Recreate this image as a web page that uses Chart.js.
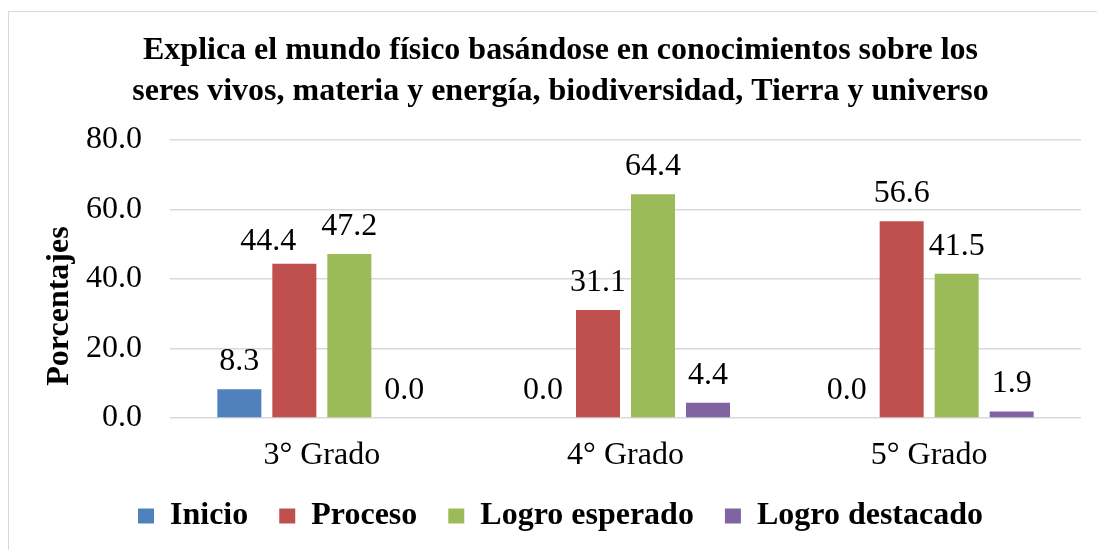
<!DOCTYPE html>
<html>
<head>
<meta charset="utf-8">
<script src="https://cdn.jsdelivr.net/npm/chart.js@4/dist/chart.umd.min.js"></script>
<style>
  html, body { margin: 0; padding: 0; overflow: hidden; background: #fff; }
  #wrap { position: absolute; left: 0; top: 0; width: 1097px; height: 550px; }
  #frame { position: absolute; left: 8px; top: 11px; width: 1200px; height: 600px; border: 1px solid #d9d9d9; box-sizing: border-box; pointer-events: none; }
</style>
</head>
<body>
<div id="wrap"><canvas id="c" width="1097" height="550"></canvas></div>
<div id="frame"></div>
<script>
const categories = ["3° Grado", "4° Grado", "5° Grado"];
const seriesNames = ["Inicio", "Proceso", "Logro esperado", "Logro destacado"];
const inicio = [8.3, 0.0, 0.0];
const proceso = [44.4, 31.1, 56.6];
const logroEsperado = [47.2, 64.4, 41.5];
const logroDestacado = [0.0, 4.4, 1.9];
const yTicks = [0, 20, 40, 60, 80];
const titleLines = ["Explica el mundo físico basándose en conocimientos sobre los", "seres vivos, materia y energía, biodiversidad, Tierra y universo"];
const yTitle = "Porcentajes";
const colors = ["#4F81BD", "#C0504D", "#9BBB59", "#8064A2"];

const FONT = "'Liberation Serif', 'Times New Roman', serif";

const valueLabels = {
  id: 'valueLabels',
  afterDatasetsDraw(chart) {
    const ctx = chart.ctx;
    ctx.save();
    ctx.font = "32px " + FONT;
    ctx.fillStyle = "#000";
    ctx.textAlign = "center";
    ctx.textBaseline = "alphabetic";
    const n = chart.data.datasets.length;
    chart.data.labels.forEach((_, j) => {
      // collect labels of this category
      const items = [];
      for (let i = 0; i < n; i++) {
        const ds = chart.data.datasets[i];
        const bar = chart.getDatasetMeta(i).data[j];
        const text = ds.data[j].toFixed(1);
        const w = ctx.measureText(text).width;
        items.push({ text, x: bar.x, y: bar.y - 19, w });
      }
      // avoid overlaps: shift a label left/down when it collides with the next one
      for (let i = n - 2; i >= 0; i--) {
        const a = items[i], b = items[i + 1];
        const overlapX = (a.x + a.w / 2) > (b.x - b.w / 2) - 2;
        const overlapY = Math.abs(a.y - b.y) < 30;
        if (overlapX && overlapY) {
          a.x = (b.x - b.w / 2) - 25 - a.w / 2;
          a.y += 5;
        }
      }
      items.forEach(it => ctx.fillText(it.text, it.x, it.y));
    });
    ctx.restore();
  }
};

const axisTitle = {
  id: 'axisTitle',
  afterDraw(chart) {
    const ctx = chart.ctx;
    const area = chart.chartArea;
    ctx.save();
    ctx.font = "bold 32px " + FONT;
    ctx.fillStyle = "#000";
    ctx.textAlign = "center";
    ctx.textBaseline = "middle";
    ctx.translate(60, (area.top + area.bottom) / 2 + 27);
    ctx.rotate(-Math.PI / 2);
    ctx.fillText(yTitle, 0, 0);
    ctx.restore();
  }
};

new Chart(document.getElementById('c'), {
  type: 'bar',
  data: {
    labels: categories,
    datasets: [
      { label: seriesNames[0], data: inicio, backgroundColor: colors[0] },
      { label: seriesNames[1], data: proceso, backgroundColor: colors[1] },
      { label: seriesNames[2], data: logroEsperado, backgroundColor: colors[2] },
      { label: seriesNames[3], data: logroDestacado, backgroundColor: colors[3] }
    ]
  },
  options: {
    responsive: false,
    animation: false,
    devicePixelRatio: 1,
    layout: { padding: { top: 0, left: 40, right: 16, bottom: 8 } },
    datasets: { bar: { categoryPercentage: 0.7245, barPercentage: 0.8 } },
    plugins: {
      title: {
        display: true,
        text: titleLines,
        color: "#000",
        font: { family: FONT, size: 32, weight: 'bold', lineHeight: '41px' },
        padding: { top: 30, bottom: 28 }
      },
      legend: {
        position: 'bottom',
        labels: {
          color: "#000",
          font: { family: FONT, size: 32, weight: 'bold' },
          boxWidth: 16,
          boxHeight: 15,
          padding: 31
        }
      },
      tooltip: { enabled: false }
    },
    scales: {
      x: {
        grid: { display: false, drawTicks: false },
        border: { display: false },
        ticks: { color: "#000", font: { family: FONT, size: 32, lineHeight: 0.8 }, padding: 25 },
        afterFit(scale) { scale.height = 51; }
      },
      y: {
        min: 0,
        max: 80,
        afterBuildTicks(scale) { scale.ticks = yTicks.map(v => ({ value: v })); },
        grid: { color: "#d9d9d9", lineWidth: 1.5, drawTicks: false },
        border: { display: false },
        ticks: {
          color: "#000",
          font: { family: FONT, size: 32 },
          padding: 28,
          callback: (v) => Number(v).toFixed(1)
        },
        afterFit(scale) { scale.width = 130; }
      }
    }
  },
  plugins: [valueLabels, axisTitle]
});
</script>
</body>
</html>
